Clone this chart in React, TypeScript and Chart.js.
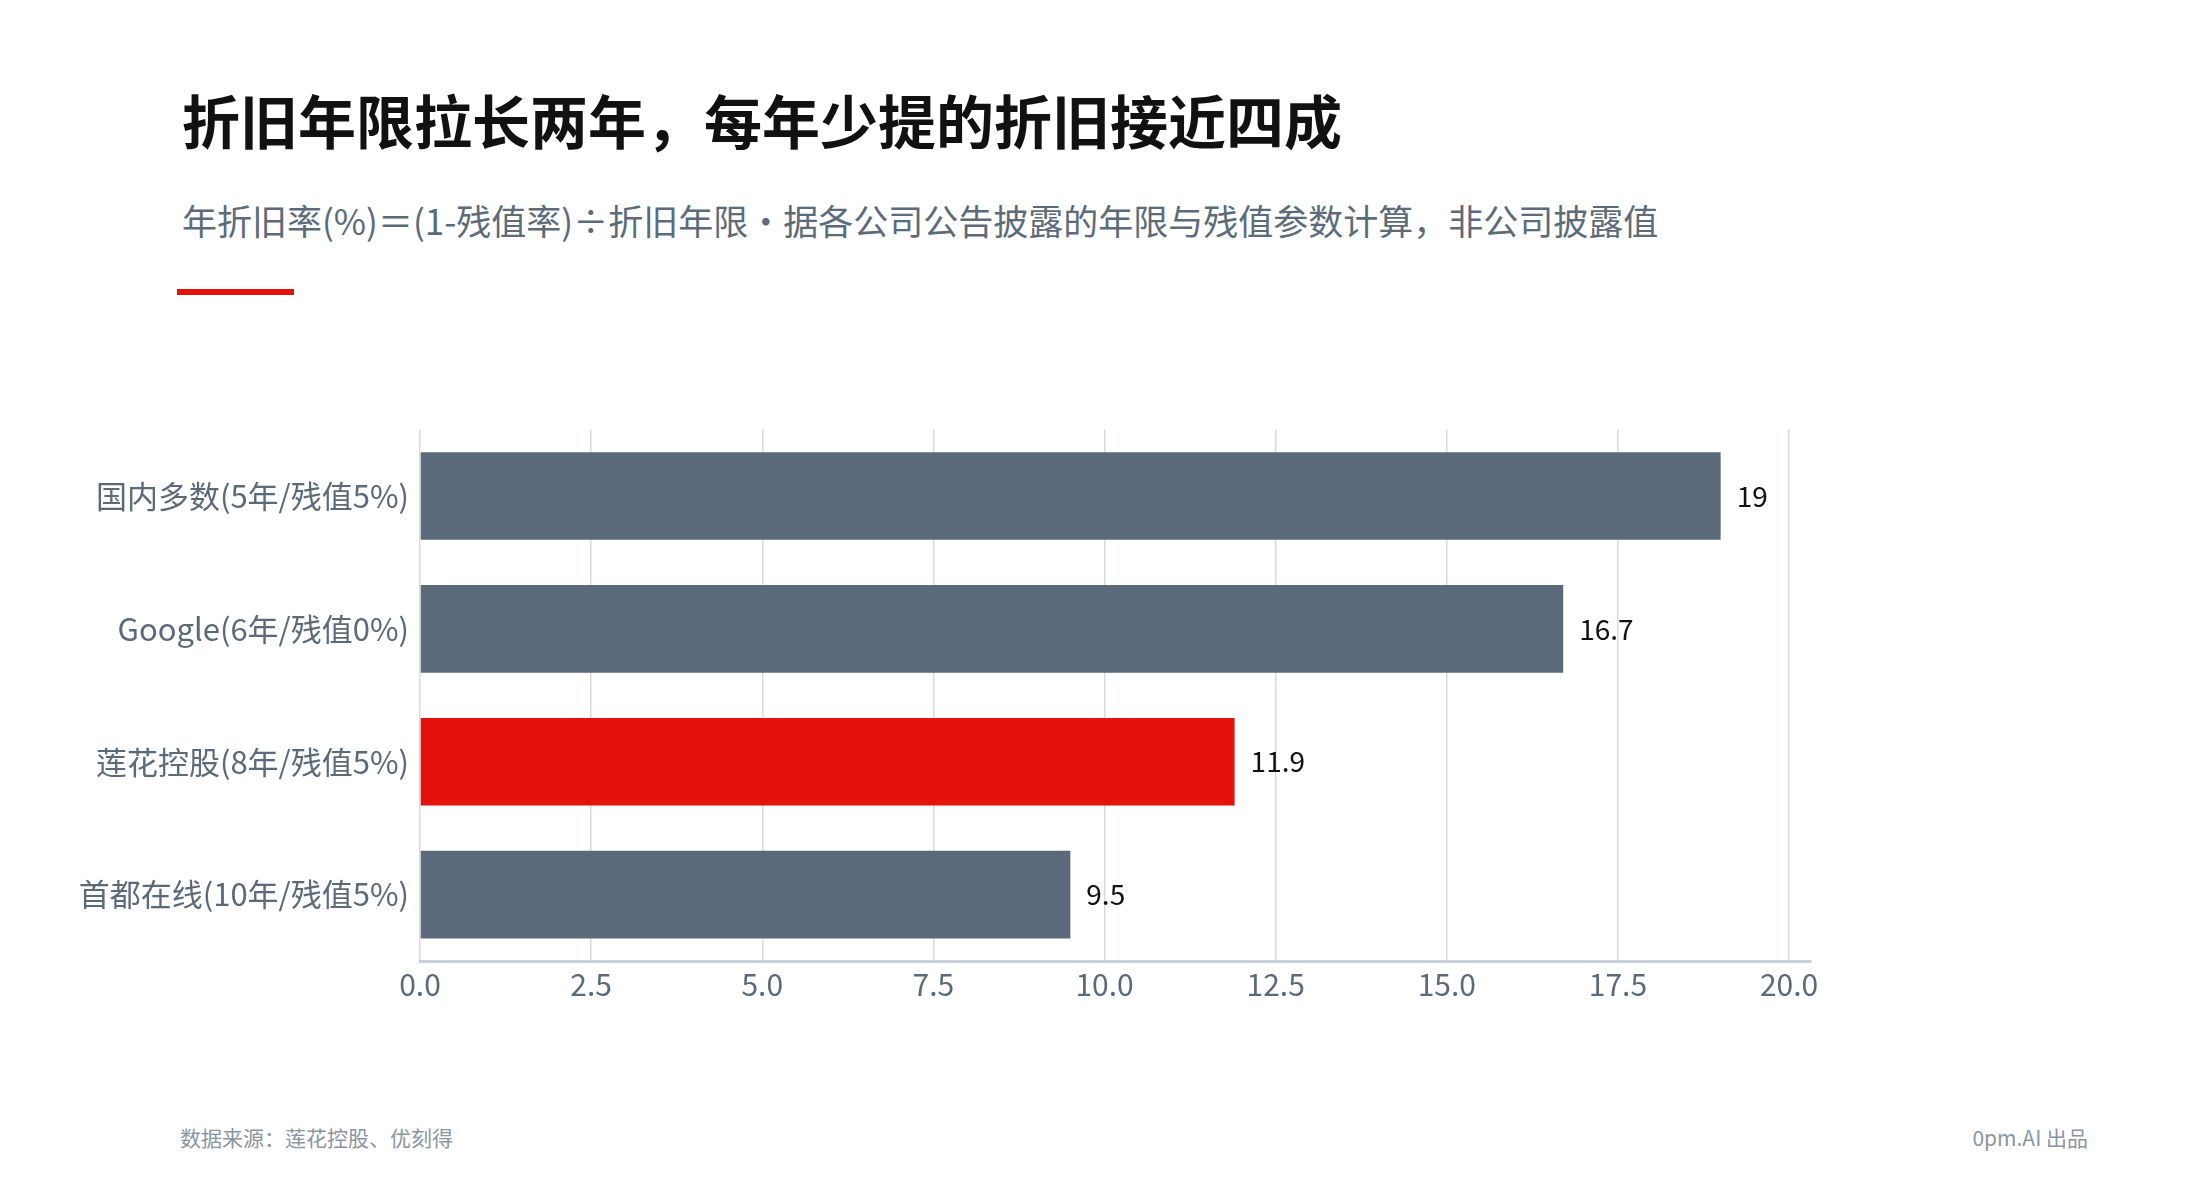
import React, { useEffect, useRef } from "react";
import { Chart, registerables } from "chart.js";

Chart.register(...registerables);

const categories = [
  "国内多数(5年/残值5%)",
  "Google(6年/残值0%)",
  "莲花控股(8年/残值5%)",
  "首都在线(10年/残值5%)",
];
const rates = [19, 16.7, 11.9, 9.5];
const valueLabels = ["19", "16.7", "11.9", "9.5"];
const highlight = [false, false, true, false];
const tickValues = [0, 2.5, 5, 7.5, 10, 12.5, 15, 17.5, 20];

const FONT = '"Noto Sans CJK SC", "Noto Sans", sans-serif';
const SLATE = "#5b6a7a";
const RED = "#e3120b";

const valueLabelPlugin = {
  id: "valueLabels",
  afterDatasetsDraw(chart: any) {
    const { ctx } = chart;
    const meta = chart.getDatasetMeta(0);
    ctx.save();
    ctx.font = `28px ${FONT}`;
    ctx.fillStyle = "#111111";
    ctx.textAlign = "left";
    ctx.textBaseline = "middle";
    meta.data.forEach((bar: any, i: number) => {
      ctx.fillText(valueLabels[i], bar.x + 16, bar.y);
    });
    ctx.restore();
  },
};

export default function App() {
  const chartRef = useRef<HTMLCanvasElement>(null);
  const chartInstance = useRef<Chart | null>(null);

  useEffect(() => {
    document.body.style.margin = "0";
    if (!chartRef.current) return;
    if (chartInstance.current) chartInstance.current.destroy();

    const ctx = chartRef.current.getContext("2d");
    if (!ctx) return;

    chartInstance.current = new Chart(ctx, {
      type: "bar",
      data: {
        labels: categories,
        datasets: [
          {
            data: rates,
            backgroundColor: highlight.map((h) => (h ? RED : SLATE)),
            borderWidth: 0,
            categoryPercentage: 1,
            barPercentage: 0.66,
          },
        ],
      },
      plugins: [valueLabelPlugin],
      options: {
        indexAxis: "y",
        animation: false,
        responsive: false,
        maintainAspectRatio: false,
        layout: { padding: { top: 26, right: 389, bottom: 0, left: 0 } },
        plugins: {
          legend: { display: false },
          tooltip: { enabled: false },
        },
        scales: {
          x: {
            min: 0,
            max: 20.32,
            afterBuildTicks: (scale: any) => {
              scale.ticks = tickValues.map((v) => ({ value: v }));
            },
            afterFit: (scale: any) => {
              scale.height = 69;
            },
            grid: {
              color: "#d7dce2",
              lineWidth: 1.5,
              drawTicks: false,
            },
            border: { display: true, color: "#c8d0d9", width: 3 },
            ticks: {
              padding: 6,
              color: SLATE,
              font: { family: FONT, size: 30 },
              callback: (v: any) => Number(v).toFixed(1),
            },
          },
          y: {
            afterFit: (scale: any) => {
              scale.width = 420;
            },
            grid: { display: false, drawTicks: false },
            border: { display: false },
            ticks: {
              padding: 11,
              color: SLATE,
              font: { family: FONT, size: 31 },
            },
          },
        },
      },
    });

    return () => {
      if (chartInstance.current) {
        chartInstance.current.destroy();
        chartInstance.current = null;
      }
    };
  }, []);

  return (
    <div
      style={{
        position: "absolute",
        left: 0,
        top: 0,
        width: 2200,
        height: 1200,
        background: "#ffffff",
        fontFamily: FONT,
        overflow: "hidden",
      }}
    >
      <div
        style={{
          position: "absolute",
          left: 182,
          top: 88,
          fontSize: 58,
          lineHeight: "62px",
          fontWeight: 700,
          color: "#111111",
          whiteSpace: "nowrap",
        }}
      >
        折旧年限拉长两年，每年少提的折旧接近四成
      </div>
      <div
        style={{
          position: "absolute",
          left: 182,
          top: 200,
          fontSize: 35,
          lineHeight: "40px",
          color: "#5c6b7a",
          whiteSpace: "nowrap",
        }}
      >
        年折旧率(%)＝(1-残值率)÷折旧年限・据各公司公告披露的年限与残值参数计算，非公司披露值
      </div>
      <div
        style={{
          position: "absolute",
          left: 177,
          top: 289,
          width: 117,
          height: 6,
          background: RED,
        }}
      />
      <canvas
        ref={chartRef}
        width={2200}
        height={630}
        style={{ position: "absolute", left: 0, top: 400, width: 2200, height: 630 }}
      />
      <div
        style={{
          position: "absolute",
          left: 180,
          top: 1125,
          fontSize: 21,
          lineHeight: "24px",
          color: "#8a95a1",
          whiteSpace: "nowrap",
        }}
      >
        数据来源：莲花控股、优刻得
      </div>
      <div
        style={{
          position: "absolute",
          right: 112,
          top: 1125,
          fontSize: 21,
          lineHeight: "24px",
          color: "#8a95a1",
          whiteSpace: "nowrap",
        }}
      >
        0pm.AI 出品
      </div>
    </div>
  );
}
